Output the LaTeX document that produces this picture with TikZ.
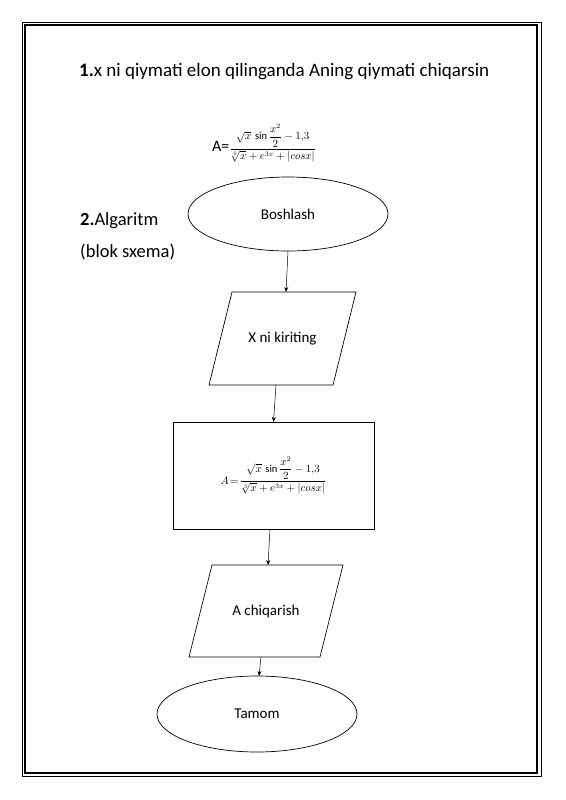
\documentclass[tikz,border=0pt]{standalone}
\usepackage{amsmath}
\usepackage{fontspec}
\setmainfont{Carlito}
\usetikzlibrary{shapes.geometric,arrows.meta}
\newcommand{\formulaA}{\dfrac{\sqrt{x}\,\sin\dfrac{x^{2}}{2}-1{,}3}{\sqrt[5]{x}+e^{3x}+\left|cosx\right|}}
\begin{document}
\begin{tikzpicture}[x=1pt,y=-1pt,
  box/.style={draw, line width=0.7pt, inner sep=0pt, outer sep=0pt, font=\fontsize{15}{17}\selectfont},
  oval/.style={box, ellipse},
  parabody/.style={box, draw=none, rectangle},
  paraline/.style={line width=0.7pt},
  proc/.style={box, rectangle},
  conn/.style={line width=0.5pt, -{Stealth[length=5pt,width=4pt]}},
  heading/.style={anchor=base west, inner sep=0pt, font=\fontsize{18.5}{20}\selectfont}]
\useasboundingbox (0,0) rectangle (565,800);
\draw[line width=0.8pt] (22,22) rectangle (541,776);
\draw[line width=2pt] (25,25) rectangle (537,773);
\node[heading, font=\fontsize{19}{21}\selectfont] (title) at (79,77) {\textbf{1.}x ni qiymati elon qilinganda Aning qiymati chiqarsin};
\node[anchor=west, inner sep=0pt] (f1) at (212,143) {\fontsize{16}{18}\selectfont A=\fontsize{10.5}{12}\selectfont$\formulaA$};
\node[heading] (h2) at (80,225) {\textbf{2.}Algaritm};
\node[heading] (h3) at (80,257) {(blok sxema)};
\node[oval, minimum width=200, minimum height=74] (b) at (288,214) {Boshlash};
\node[parabody, minimum width=124, minimum height=93] (p1) at (282.5,338.5) {X ni kiriting};
\draw[paraline] ([xshift=11.5pt]p1.north west) -- ([xshift=11.5pt]p1.north east)
  -- ([xshift=-11.5pt]p1.south east) -- ([xshift=-11.5pt]p1.south west) -- cycle;
\node[proc, minimum width=201, minimum height=107] (r) at (273.5,475.5) {\fontsize{10.5}{12}\selectfont$A\!=\!\formulaA$};
\node[parabody, minimum width=131, minimum height=92] (p2) at (266,611) {A chiqarish};
\draw[paraline] ([xshift=11.5pt]p2.north west) -- ([xshift=11.5pt]p2.north east)
  -- ([xshift=-11.5pt]p2.south east) -- ([xshift=-11.5pt]p2.south west) -- cycle;
\node[oval, minimum width=200, minimum height=76] (t) at (257,714) {Tamom};
\draw[conn] (b.south) -- ([xshift=3.5pt]p1.north);
\draw[conn] ([xshift=-6.5pt]p1.south) -- (r.north);
\draw[conn] ([xshift=-3.5pt]r.south) -- ([xshift=2pt]p2.north);
\draw[conn] ([xshift=-5pt]p2.south) -- ([xshift=2pt]t.north);
\end{tikzpicture}
\end{document}
